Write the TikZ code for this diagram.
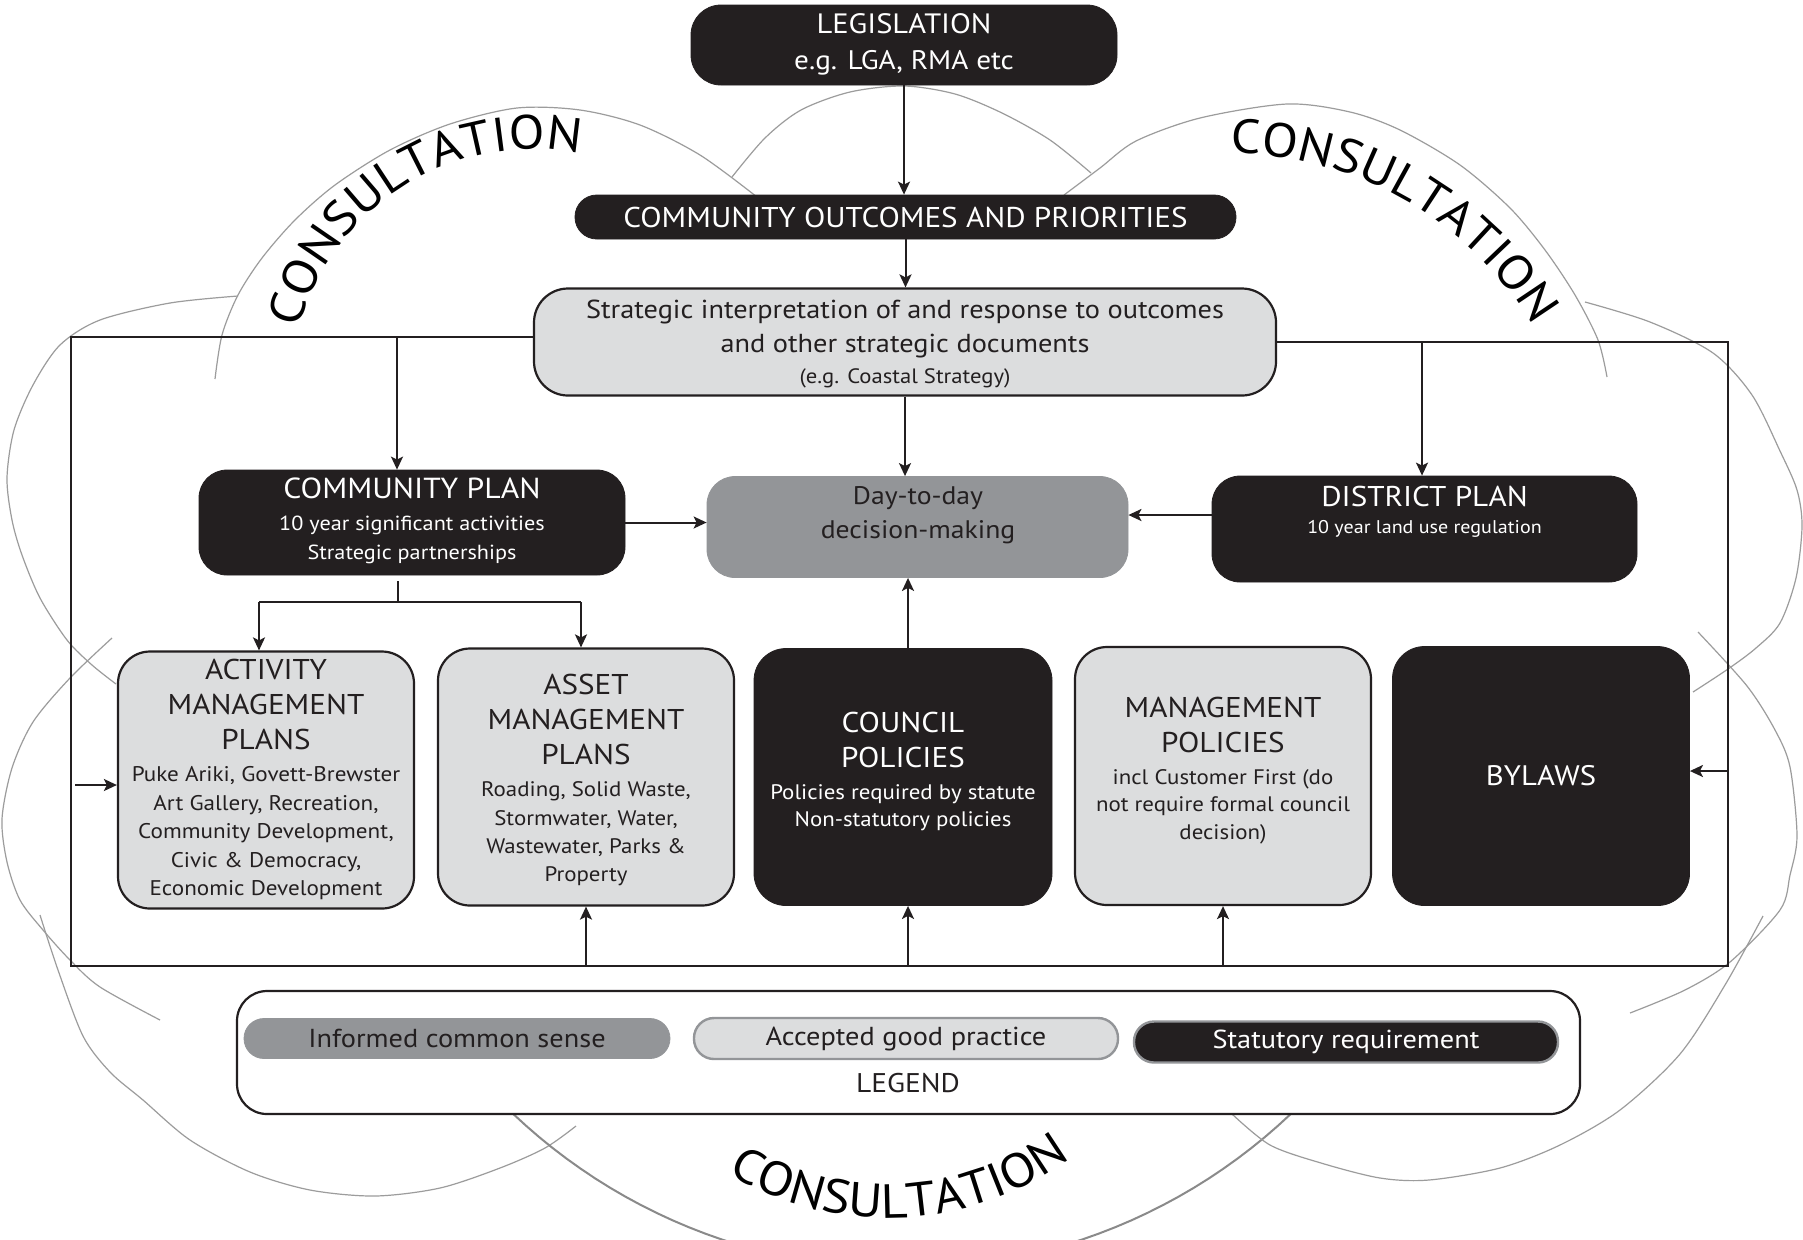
\documentclass[tikz,border=0pt]{standalone}
\usepackage{fontspec}
\setmainfont{PT Sans}[FakeStretch=1.09]
\usetikzlibrary{arrows.meta,calc,decorations.text}
\definecolor{ink}{HTML}{231F20}
\definecolor{lightg}{HTML}{DCDDDE}
\definecolor{midg}{HTML}{939598}
\definecolor{cloudg}{HTML}{9C9C9C}
\definecolor{cloudd}{HTML}{8A8A8A}
\newcommand\fs[2]{\fontsize{#1}{#2}\selectfont}
\newcommand\consf{\fontsize{24}{24}\selectfont}
\newcommand\ttl{\fontsize{14.3}{16}\selectfont}
\begin{document}
\begin{tikzpicture}[x=0.5pt,y=-0.5pt,
  blk/.style={fill=ink, draw=ink, rounded corners=14pt, inner sep=0pt, text=white, align=center},
  lgt/.style={fill=lightg, draw=ink, line width=1.1pt, rounded corners=16pt, inner sep=0pt, text=ink, align=center},
  wtxt/.style={text=white, align=center, inner sep=0pt},
  btxt/.style={text=ink, align=center, inner sep=0pt},
  conn/.style={draw=ink, line width=1pt},
  arr/.style={conn, -{Stealth[length=6.5pt,width=6pt,inset=1.5pt]}},
  frame/.style={draw=ink, line width=1.2pt},
  cloud/.style={draw=cloudg, line width=0.6pt},
  constext/.style={decorate, decoration={text along path, text={|\consf|CONSULTATION}, text align=center}},
]
\useasboundingbox (0,0) rectangle (1803,1239);
\fill[white] (0,0) rectangle (1803,1239);

% ---------- consultation cloud ----------
\begin{scope}
\clip (0,0) rectangle (1803,1239);
\draw[cloud] plot[smooth] coordinates {(215,379) (222,335) (238,295) (262,258) (295,220) (335,185) (390,150) (450,124) (517,108) (580,110) (640,125) (700,155) (757,197)};
\draw[cloud] plot[smooth] coordinates {(732,177) (765,138) (801,110) (850,92) (904,86) (955,94) (1002,113) (1050,140) (1091,173)};
\draw[cloud] plot[smooth] coordinates {(1064,195) (1100,168) (1136,141) (1200,118) (1287,104) (1350,112) (1400,130) (1460,165) (1510,208) (1545,250) (1575,295) (1598,340) (1607,377)};
\draw[cloud] plot[smooth] coordinates {(238,296) (170,303) (100,320) (60,345) (33,385) (14,430) (7,478) (12,520) (22,555) (40,598) (67,640) (92,665) (116,684)};
\draw[cloud] plot[smooth] coordinates {(112,638) (70,678) (33,722) (12,768) (2,819) (7,862) (20,900) (43,930) (70,960) (100,987) (160,1020)};
\draw[cloud] plot[smooth] coordinates {(40,915) (58,970) (83,1036) (110,1072) (143,1100) (190,1140) (250,1172) (310,1190) (375,1196) (440,1188) (500,1168) (545,1148) (576,1126)};
\draw[draw=cloudd, line width=1pt] plot[domain=133.5:46.5, samples=50] ({902+565*cos(\x)},{704+565*sin(\x)});
\draw[cloud] plot[smooth] coordinates {(1585,302) (1650,322) (1713,353) (1752,395) (1780,451) (1797,490) (1802,526) (1796,578) (1780,623) (1756,648) (1728,669) (1693,692)};
\draw[cloud] plot[smooth] coordinates {(1698,632) (1747,686) (1775,730) (1790,767) (1797,836) (1790,875) (1780,910) (1730,962) (1685,990) (1630,1013)};
\draw[cloud] plot[smooth] coordinates {(1232,1114) (1270,1145) (1321,1163) (1380,1178) (1429,1180) (1500,1168) (1560,1145) (1620,1110) (1680,1054) (1725,985) (1763,916)};
\end{scope}

\coordinate (ctl) at (533,391);
\coordinate (ctr) at (1227,511);
\coordinate (cbt) at (888,911);
\path[constext] ($(ctl)+(172:121pt)$) arc[start angle=172, end angle=72, radius=121pt];
\path[constext] ($(ctr)+(100:179pt)$) arc[start angle=100, end angle=20.5, radius=179pt];
\path[constext] ($(cbt)+(232.5:153.5pt)$) arc[start angle=232.5, end angle=312.5, radius=153.5pt];

% ---------- boxes ----------
\node[blk, minimum width=213pt, minimum height=40pt, rounded corners=15pt] (leg) at (904,45) {};
\node[wtxt, font=\fs{13.4}{18}] (legt) at (904,44) {\fs{14}{18}LEGISLATION\\e.g. LGA, RMA etc};

\node[blk, minimum width=330.5pt, minimum height=22pt, rounded corners=10.9pt, font=\fs{14.3}{16}] (outc) at (905.5,217) {COMMUNITY OUTCOMES AND PRIORITIES};

\node[lgt, minimum width=371pt, minimum height=53.5pt, rounded corners=17pt] (strat) at (905,342) {};
\node[btxt, font=\fs{13}{17.25}] (stratt) at (905,344) {Strategic interpretation of and response to outcomes\\and other strategic documents\\[-1.75pt]\fs{10.4}{12}(e.g. Coastal Strategy)};

\node[blk, minimum width=213pt, minimum height=52.5pt] (cp) at (412,522.5) {};
\node[wtxt, font=\fs{10.2}{14.5}] (cpt) at (412,521) {\fs{14.5}{16}COMMUNITY PLAN\\[1.5pt]10 year significant activities\\Strategic partnerships};

\node[fill=midg, draw=midg, rounded corners=14pt, inner sep=0pt, minimum width=210.5pt, minimum height=50.5pt] (day) at (917.5,527) {};
\node[btxt, font=\fs{12.7}{17}] (dayt) at (918,515) {Day-to-day\\decision-making};

\node[blk, minimum width=212.5pt, minimum height=53pt] (dist) at (1424.5,529) {};
\node[wtxt, font=\fs{9.2}{13.5}] (distt) at (1424.5,511.5) {\fs{14.3}{16}DISTRICT PLAN\\10 year land use regulation};

\node[lgt, minimum width=148pt, minimum height=128.5pt] (act) at (266,780) {};
\node[btxt, font=\fs{10.6}{14.2}] (actt) at (266,779.5) {\ttl ACTIVITY\\[3.3pt]\ttl MANAGEMENT\\[3.3pt]\ttl PLANS\\[2pt]Puke Ariki, Govett-Brewster\\Art Gallery, Recreation,\\Community Development,\\Civic \& Democracy,\\Economic Development};

\node[lgt, minimum width=148pt, minimum height=128.5pt] (ast) at (586,777) {};
\node[btxt, font=\fs{10.5}{14.2}] (astt) at (586,780) {\ttl ASSET\\[3.3pt]\ttl MANAGEMENT\\[3.3pt]\ttl PLANS\\[2pt]Roading, Solid Waste,\\Stormwater, Water,\\Wastewater, Parks \&\\Property};

\node[blk, minimum width=149pt, minimum height=128.5pt, rounded corners=16pt] (cou) at (903,777) {};
\node[wtxt, font=\fs{10.5}{13.8}] (cout) at (903,771.5) {\ttl COUNCIL\\[3.7pt]\ttl POLICIES\\[2.2pt]Policies required by statute\\Non-statutory policies};

\node[lgt, minimum width=148pt, minimum height=129pt] (mgt) at (1223,776) {};
\node[btxt, font=\fs{10.5}{13.8}] (mgtt) at (1223,770.5) {\ttl MANAGEMENT\\[3.7pt]\ttl POLICIES\\[2.2pt]incl Customer First (do\\not require formal council\\decision)};

\node[blk, minimum width=148.5pt, minimum height=129.5pt, rounded corners=16pt, font=\fs{14.1}{16}] (byl) at (1541,776) {BYLAWS};

% ---------- legend ----------
\node[draw=ink, fill=white, line width=1.1pt, rounded corners=15pt, inner sep=0pt, minimum width=671.5pt, minimum height=61.5pt] (lgd) at (908.5,1052.5) {};
\node[fill=midg, draw=midg, rounded corners=10pt, inner sep=0pt, minimum width=213pt, minimum height=20pt, text=ink, font=\fs{13}{16}] (l1) at (457,1038.5) {Informed common sense};
\node[fill=lightg, draw=midg, line width=1.2pt, rounded corners=10pt, inner sep=0pt, minimum width=212pt, minimum height=20.5pt, text=ink, font=\fs{13}{16}] (l2) at (906,1038.5) {Accepted good practice};
\node[fill=ink, draw=midg, line width=1.2pt, rounded corners=10pt, inner sep=0pt, minimum width=212pt, minimum height=20.5pt, text=white, font=\fs{13}{16}] (l3) at (1346,1042) {Statutory requirement};
\node[btxt, font=\fs{13.5}{15}] (lgdt) at (908,1083) {LEGEND};

% ---------- frame and connectors ----------
\coordinate (fTL) at (71,337);
\coordinate (fBL) at (71,966);
\coordinate (fBR) at (1728,966);
\coordinate (fTR) at (1728,342);
\draw[frame] (strat.west |- fTL) -- (fTL) -- (fBL) -- (fBR) -- (fTR) -- (strat.east |- fTR);

\coordinate (cpin) at (397,337);
\coordinate (dpin) at (1422,342);
\draw[arr] (cpin) -- (cpin |- cp.north);
\draw[arr] (dpin) -- (dpin |- dist.north);

\draw[arr] (leg.south) -- (leg.south |- outc.north);
\draw[arr] (outc.south) -- (outc.south |- strat.north);
\draw[arr] (strat.south) -- (strat.south |- day.north);
\draw[arr] (cp.east) -- (cp.east -| day.west);
\draw[arr] ($(dist.west)+(0,-14)$) -- ($(dist.west -| day.east)+(0,-14)$);

\coordinate (split) at (398,602);
\coordinate (sa) at (259,602);
\coordinate (sb) at (581,602);
\draw[conn] ($(cp.south -| split)+(0,6)$) -- (split);
\draw[conn] (sa) -- (sb);
\draw[arr] (sa) -- (sa |- act.north);
\draw[arr] (sb) -- (sb |- ast.north);

\draw[arr] ($(cou.north)+(5,0)$) -- ($(cou.north |- day.south)+(5,0)$);
\draw[arr] (ast.south |- fBL) -- (ast.south);
\draw[arr] ($(cou.south |- fBL)+(5,0)$) -- ($(cou.south)+(5,0)$);
\draw[arr] (mgt.south |- fBL) -- (mgt.south);
\draw[arr] ($(fBL |- act.west)+(4,5)$) -- ($(act.west)+(0,5)$);
\draw[arr] ($(fBR |- byl.east)+(0,-5)$) -- ($(byl.east)+(0,-5)$);
\end{tikzpicture}
\end{document}
